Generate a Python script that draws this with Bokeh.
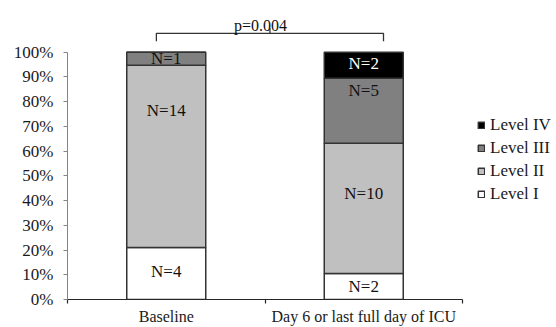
from bokeh.plotting import figure
from bokeh.models import (ColumnDataSource, Range1d, LinearAxis, FixedTicker,
                          NumeralTickFormatter, Legend, LegendItem)
from bokeh.core.properties import value
from bokeh.embed import file_html
from bokeh.resources import INLINE

# ---------------- data ----------------
categories = ["Baseline", "Day 6 or last full day of ICU"]
levels = ["Level I", "Level II", "Level III", "Level IV"]
level_i = [4, 2]
level_ii = [14, 10]
level_iii = [1, 5]
level_iv = [0, 2]
y_ticks = [0.0, 0.1, 0.2, 0.3, 0.4, 0.5, 0.6, 0.7, 0.8, 0.9, 1.0]
p_value_text = "p=0.004"

# ---------------- layout / style ----------------
FONT = "Liberation Serif"
fill_colors = ["#ffffff", "#c0c0c0", "#808080", "#000000"]
text_colors = ["#111111", "#111111", "#111111", "#ffffff"]
label_shift_px = [[2, 46, 0, 0], [0, 15, 20, 2]]   # vertical nudges of the N= labels
W, H = 556, 327
LEFT, BOTTOM = 67, 26
PX_X = 197.5   # pixels per category slot
PX_Y = 249.0   # pixels per 100 %
frame_w = W - LEFT
frame_h = H - BOTTOM

p = figure(width=W, height=H, output_backend="svg", toolbar_location=None, title=None,
           x_range=Range1d(0, frame_w / PX_X), y_range=Range1d(0, frame_h / PX_Y),
           x_axis_type=None, y_axis_type=None,
           min_border_left=LEFT, min_border_bottom=BOTTOM,
           min_border_top=0, min_border_right=0, outline_line_color=None)
p.background_fill_color = "#ffffff"
p.border_fill_color = "#ffffff"

counts = dict(zip(levels, [level_i, level_ii, level_iii, level_iv]))
totals = [sum(v) for v in zip(level_i, level_ii, level_iii, level_iv)]
xs = [i + 0.5 for i in range(len(categories))]
bounds_x = list(range(len(categories) + 1))

data = {"x": xs}
for lv in levels:
    data[lv] = [n / t for n, t in zip(counts[lv], totals)]
src = ColumnDataSource(data)

bars = p.vbar_stack(levels, x="x", width=0.4, fill_color=fill_colors,
                    line_color="#333333", line_width=1.5, source=src)

# N= labels
lx, ly, lt, lc = [], [], [], []
for ci in range(len(categories)):
    base = 0.0
    for li, lv in enumerate(levels):
        n = counts[lv][ci]
        f = n / totals[ci]
        if n > 0:
            lx.append(xs[ci])
            ly.append(base + f / 2 + label_shift_px[ci][li] / PX_Y)
            lt.append(f"N={n}")
            lc.append(text_colors[li])
        base += f
p.text(x="x", y="y", text="t", text_color="c",
       source=ColumnDataSource(dict(x=lx, y=ly, t=lt, c=lc)),
       text_font=value(FONT), text_font_size="17px",
       text_align="center", text_baseline="middle")

# significance bracket
bx0, bx1, bmid = 0.45, 1.60, 1.025
by = 1 + 19 / PX_Y
hook = 1 + 11 / PX_Y
tick_top = 1 + 24 / PX_Y
p.multi_line(xs=[[bx0, bx0, bx1, bx1], [bmid, bmid]],
             ys=[[hook, by, by, hook], [by, tick_top]],
             line_color="#333333", line_width=1.3)
p.text(x=[0.977], y=[1 + 26.5 / PX_Y], text=[p_value_text],
       text_font=value(FONT), text_font_size="16px", text_color="#111111",
       text_align="center", text_baseline="alphabetic")

# y axis
yaxis = LinearAxis(ticker=FixedTicker(ticks=y_ticks),
                   formatter=NumeralTickFormatter(format="0%"), bounds=(0, 1))
yaxis.axis_line_color = "#858585"
yaxis.major_tick_line_color = "#858585"
yaxis.major_tick_out = 4
yaxis.major_tick_in = 0
yaxis.minor_tick_line_color = None
yaxis.major_label_text_font = FONT
yaxis.major_label_text_font_size = "17px"
yaxis.major_label_text_color = "#1a1a1a"
yaxis.major_label_standoff = 10
p.add_layout(yaxis, "left")

# x axis: line + category boundary ticks
xaxis = LinearAxis(ticker=FixedTicker(ticks=bounds_x), bounds=(0, len(categories)),
                   major_label_overrides={b: "" for b in bounds_x})
xaxis.axis_line_color = "#262626"
xaxis.axis_line_width = 1.2
xaxis.major_tick_line_color = "#262626"
xaxis.major_tick_line_width = 1.2
xaxis.major_tick_out = 4
xaxis.major_tick_in = 0
xaxis.minor_tick_line_color = None
xaxis.major_label_text_font_size = "0px"
xaxis.major_label_standoff = 0
p.add_layout(xaxis, "below")

# x axis: category names centred in each slot
xlab = LinearAxis(ticker=FixedTicker(ticks=xs), bounds=(0, len(categories)),
                  major_label_overrides={x: c for x, c in zip(xs, categories)})
xlab.axis_line_color = None
xlab.major_tick_line_color = None
xlab.minor_tick_line_color = None
xlab.major_tick_out = 0
xlab.major_tick_in = 0
xlab.major_label_text_font = FONT
xlab.major_label_text_font_size = "16px"
xlab.major_label_text_color = "#1a1a1a"
xlab.major_label_standoff = 4
p.add_layout(xlab, "below")

# legend
items = [LegendItem(label=levels[li], renderers=[bars[li]])
         for li in reversed(range(len(levels)))]
legend = Legend(items=items, location=(410, 95),
                glyph_width=8, glyph_height=8, label_height=20, label_width=20,
                label_standoff=5, spacing=3, padding=0, margin=0,
                border_line_color=None, background_fill_alpha=0,
                label_text_font=FONT, label_text_font_size="17px",
                label_text_color="#1a1a1a")
p.add_layout(legend)

open("out.html", "w").write(file_html(p, INLINE))
